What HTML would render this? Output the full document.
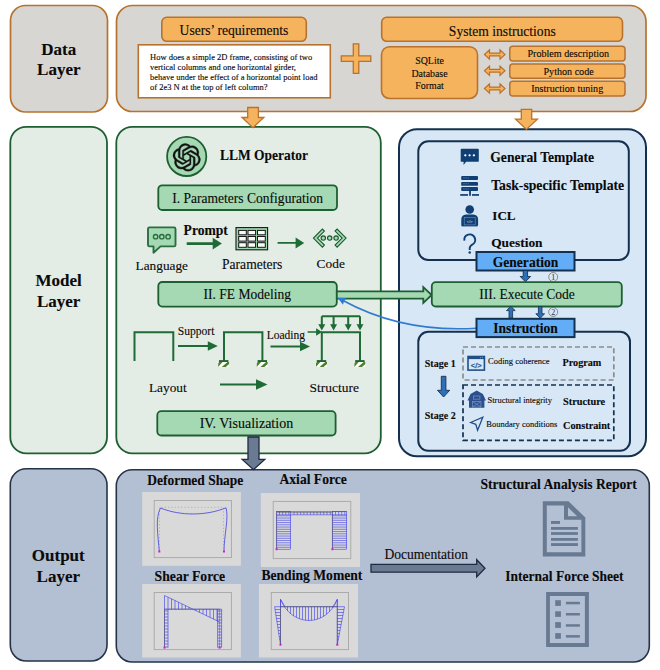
<!DOCTYPE html>
<html><head><meta charset="utf-8">
<style>
html,body{margin:0;padding:0;background:#fff;width:660px;height:670px;overflow:hidden}
svg{display:block}
text{font-family:"Liberation Serif",serif;fill:#0a0a0a;stroke:#0a0a0a;stroke-width:0.12}
.b{font-weight:700}
</style></head>
<body>
<svg width="660" height="670" viewBox="0 0 660 670">
<!-- ===== DATA LAYER ===== -->
<rect x="10.5" y="5.5" width="97" height="106.5" rx="15" fill="#d8d6d3" stroke="#b8722d" stroke-width="1.7"/>
<text class="b" x="58.8" y="54.8" font-size="17" text-anchor="middle">Data</text>
<text class="b" x="58.8" y="74.8" font-size="17" text-anchor="middle">Layer</text>

<rect x="116.5" y="5.5" width="529.5" height="106" rx="16" fill="#d8d6d3" stroke="#b8722d" stroke-width="1.7"/>
<rect x="161.8" y="17.3" width="144.5" height="24" rx="5" fill="#f6b35d" stroke="#b8722d" stroke-width="1.6"/>
<text x="234" y="35.3" font-size="13.6" text-anchor="middle">Users’ requirements</text>
<rect x="138.3" y="44.8" width="192" height="53" fill="#fff" stroke="#b8722d" stroke-width="1.6"/>
<g font-size="8.5" style="stroke:none">
<text x="150" y="59.7">How does a simple 2D frame, consisting of two</text>
<text x="150" y="69.9">vertical columns and one horizontal girder,</text>
<text x="150" y="80.1">behave under the effect of a horizontal point load</text>
<text x="150" y="90.3">of 2e3 N at the top of left column?</text>
</g>
<!-- plus -->
<path d="M353.3 43.8h5.5v12h12v5.5h-12v12h-5.5v-12h-12v-5.5h12z" fill="#f6b35d" stroke="#b8722d" stroke-width="1.3"/>
<rect x="381.7" y="17.3" width="240.8" height="24" rx="5" fill="#f6b35d" stroke="#b8722d" stroke-width="1.6"/>
<text x="502.3" y="36" font-size="13.6" text-anchor="middle">System instructions</text>
<rect x="381.5" y="46.7" width="96" height="51.8" rx="8" fill="#f6b35d" stroke="#b8722d" stroke-width="1.6"/>
<g font-size="9.9" text-anchor="middle">
<text x="429.5" y="63.9">SQLite</text>
<text x="429.5" y="76.8">Database</text>
<text x="429.5" y="89.2">Format</text>
</g>
<g fill="#f6b35d" stroke="#b8722d" stroke-width="1.2">
<path id="dbl" d="M484.5 54.5l5-4.6v3.2h10.5v-3.2l5 4.6l-5 4.6v-3.2h-10.5v3.2z"/>
<use href="#dbl" y="16.3"/>
<use href="#dbl" y="34"/>
</g>
<rect x="509.8" y="46.2" width="115.2" height="14.8" rx="3" fill="#f6b35d" stroke="#b8722d" stroke-width="1.5"/>
<rect x="509.8" y="64" width="115.2" height="14.3" rx="3" fill="#f6b35d" stroke="#b8722d" stroke-width="1.5"/>
<rect x="509.8" y="81.2" width="115.2" height="14.7" rx="3" fill="#f6b35d" stroke="#b8722d" stroke-width="1.5"/>
<g font-size="10.1" text-anchor="middle">
<text x="568.3" y="56.7">Problem description</text>
<text x="568.6" y="75">Python code</text>
<text x="567.2" y="91.5">Instruction tuning</text>
</g>

<!-- ===== MODEL LAYER ===== -->
<rect x="10.3" y="126.8" width="96.7" height="326.5" rx="16" fill="#e4ece6" stroke="#1d5f31" stroke-width="1.8"/>
<text class="b" x="58.6" y="286" font-size="17" text-anchor="middle">Model</text>
<text class="b" x="58.6" y="307" font-size="17" text-anchor="middle">Layer</text>

<rect x="116.3" y="126.8" width="264.5" height="326.5" rx="16" fill="#e4ece6" stroke="#1d5f31" stroke-width="1.8"/>
<rect x="399" y="129.3" width="247" height="327" rx="18" fill="#d8e7f5" stroke="#13304f" stroke-width="2"/>
<rect x="418.3" y="141.3" width="210.5" height="118.7" rx="10" fill="none" stroke="#13304f" stroke-width="2"/>
<rect x="418.3" y="331.8" width="211.7" height="119" rx="10" fill="none" stroke="#13304f" stroke-width="2"/>


<!-- ===== MODEL MIDDLE CONTENT ===== -->
<!-- openai logo -->
<circle cx="186.7" cy="156.4" r="19.6" fill="#a4d9b3" stroke="#1d5f31" stroke-width="1.8"/>
<g transform="translate(172.9 143.6) scale(1.15)"><path fill="#111" stroke="#111" stroke-width="0.35" stroke-linejoin="round" d="M22.2819 9.8211a5.9847 5.9847 0 0 0-.5157-4.9108 6.0462 6.0462 0 0 0-6.5098-2.9A6.0651 6.0651 0 0 0 4.9807 4.1818a5.9847 5.9847 0 0 0-3.9977 2.9 6.0462 6.0462 0 0 0 .7427 7.0966 5.98 5.98 0 0 0 .511 4.9107 6.051 6.051 0 0 0 6.5146 2.9001A5.9847 5.9847 0 0 0 13.2599 24a6.0557 6.0557 0 0 0 5.7718-4.2058 5.9894 5.9894 0 0 0 3.9977-2.9001 6.0557 6.0557 0 0 0-.7475-7.0729zm-9.022 12.6081a4.4755 4.4755 0 0 1-2.8764-1.0408l.1419-.0804 4.7783-2.7582a.7948.7948 0 0 0 .3927-.6813v-6.7369l2.02 1.1686a.071.071 0 0 1 .038.052v5.5826a4.504 4.504 0 0 1-4.4945 4.4944zm-9.6607-4.1254a4.4708 4.4708 0 0 1-.5346-3.0137l.142.0852 4.783 2.7582a.7712.7712 0 0 0 .7806 0l5.8428-3.3685v2.3324a.0804.0804 0 0 1-.0332.0615L9.74 19.9502a4.4992 4.4992 0 0 1-6.1408-1.6464zM2.3408 7.8956a4.485 4.485 0 0 1 2.3655-1.9728V11.6a.7664.7664 0 0 0 .3879.6765l5.8144 3.3543-2.0201 1.1685a.0757.0757 0 0 1-.071 0l-4.8303-2.7865A4.504 4.504 0 0 1 2.3408 7.872zm16.5963 3.8558L13.1038 8.364 15.1192 7.2a.0757.0757 0 0 1 .071 0l4.8303 2.7913a4.4944 4.4944 0 0 1-.6765 8.1042v-5.6772a.79.79 0 0 0-.407-.667zm2.0107-3.0231l-.142-.0852-4.7735-2.7818a.7759.7759 0 0 0-.7854 0L9.409 9.2297V6.8974a.0662.0662 0 0 1 .0284-.0615l4.8303-2.7866a4.4992 4.4992 0 0 1 6.6802 4.66zM8.3065 12.863l-2.02-1.1638a.0804.0804 0 0 1-.038-.0567V6.0742a4.4992 4.4992 0 0 1 7.3757-3.4537l-.142.0805L8.704 5.459a.7948.7948 0 0 0-.3927.6813zm1.0976-2.3654l2.602-1.4998 2.6069 1.4998v2.9994l-2.5974 1.4997-2.6067-1.4997Z"/></g>
<text class="b" x="220" y="160.2" font-size="14.9" textLength="88" lengthAdjust="spacingAndGlyphs">LLM Operator</text>
<rect x="158.3" y="185.3" width="178.7" height="24.7" rx="4" fill="#a4d9b3" stroke="#1d5f31" stroke-width="1.8"/>
<text x="247.6" y="203" font-size="13.55" text-anchor="middle">I. Parameters Configuration</text>

<!-- language icon -->
<path d="M149.5 227.4h24.5a1.5 1.5 0 0 1 1.5 1.5v16a1.5 1.5 0 0 1 -1.5 1.5h-13.5l-7 6.3v-6.3h-4a1.5 1.5 0 0 1 -1.5 -1.5v-16a1.5 1.5 0 0 1 1.5 -1.5z" fill="#a4d9b3" stroke="#2a6e3f" stroke-width="1.9" stroke-linejoin="round"/>
<g fill="none" stroke="#2a6e3f" stroke-width="1.4">
<circle cx="155.6" cy="236.7" r="2.2"/><circle cx="161.8" cy="236.7" r="2.2"/><circle cx="168.1" cy="236.7" r="2.2"/>
</g>
<text class="b" x="183.6" y="235" font-size="13.6">Prompt</text>
<text x="135.6" y="269.5" font-size="13.3">Language</text>
<!-- arrows -->
<g fill="#1f6b35" stroke="none">
<path d="M186.7 242.3h26v-4.6l9.2 5.9l-9.2 5.9v-4.6h-26z"/>
<path d="M277.6 242h18v-4.6l8.6 5.5l-8.6 5.5v-4.6h-18z"/>
</g>
<!-- parameters table icon -->
<rect x="236" y="227.6" width="31.6" height="22.2" fill="#9fd6ad" stroke="#151515" stroke-width="1.1"/>
<g fill="#f8faf8" stroke="#151515" stroke-width="1">
<rect x="238.7" y="230.4" width="7.6" height="4.4"/><rect x="248" y="230.4" width="7.6" height="4.4"/><rect x="257.5" y="230.4" width="7.8" height="4.4"/>
<rect x="238.7" y="236.5" width="7.6" height="4.6"/><rect x="248" y="236.5" width="7.6" height="4.6"/><rect x="257.5" y="236.5" width="7.8" height="4.6"/>
<rect x="238.7" y="242.7" width="7.6" height="4.6"/><rect x="248" y="242.7" width="7.6" height="4.6"/><rect x="257.5" y="242.7" width="7.8" height="4.6"/>
</g>
<text x="222" y="268.6" font-size="13.6">Parameters</text>
<!-- code icon -->
<g fill="#a4d9b3" stroke="#17592c" stroke-width="1.1" stroke-linejoin="miter">
<path d="M313.4 238.1L322.4 229.1L324.4 231.1L317.4 238.1L324.4 245.1L322.4 247.1Z"/>
<path d="M346.1 238.1L337.1 229.1L335.1 231.1L342.1 238.1L335.1 245.1L337.1 247.1Z"/>
<circle cx="323.3" cy="238.1" r="2.2"/><circle cx="329.7" cy="238.1" r="2.2"/><circle cx="336.1" cy="238.1" r="2.2"/>
</g>
<text x="316.6" y="268.4" font-size="13.4">Code</text>

<!-- FE modeling -->
<rect x="158.3" y="282" width="178.5" height="24.6" rx="4" fill="#a4d9b3" stroke="#1d5f31" stroke-width="1.8"/>
<text x="247.3" y="299.3" font-size="13.55" text-anchor="middle">II. FE Modeling</text>
<!-- hollow arrow to execute code -->
<path d="M336.8 291.4H423.3V287.2L431.6 295L423.3 302.8V298.6H336.8Z" fill="#a4d9b3" stroke="#1d5f31" stroke-width="1.8" stroke-linejoin="miter"/>

<!-- layout frames -->
<g fill="none" stroke="#1f6b35" stroke-width="2">
<path d="M134.5 361v-28.8h38.8v28.8"/>
<path d="M224 361v-28.8h38.4v28.8"/>
<path d="M321.8 361v-28.8h38.2v28.8"/>
<path d="M321.8 316.3h38.2"/>
</g>
<g fill="#1f6b35">
<path d="M178 344.9H207.8V341.3L217.8 346L207.8 350.7V347.1H178Z"/>
<path d="M270.5 345.4H300V341.8L310 346.5L300 351.2V347.6H270.5Z"/>
<path d="M220 383.5h36v-4.3l11.5 5.3l-11.5 5.3v-4.3h-36z"/>
<path d="M307.6 331.2h8.5v-3l6 3.8l-6 3.8v-3h-8.5z"/>
<path d="M320.8 316.3h2v8h2.5l-3.5 6.2l-3.5-6.2h2.5z"/>
<path d="M332.6 316.3h2v8h2.5l-3.5 6.2l-3.5-6.2h2.5z"/>
<path d="M347.2 316.3h2v8h2.5l-3.5 6.2l-3.5-6.2h2.5z"/>
<path d="M359 316.3h2v8h2.5l-3.5 6.2l-3.5-6.2h2.5z"/>
</g>
<!-- supports -->
<defs><clipPath id="supc"><rect x="218.2" y="362" width="10.9" height="5"/></clipPath></defs>
<g id="sup">
<rect x="219" y="360.1" width="9.4" height="1.9" fill="#1d6633"/>
<rect x="218.2" y="362" width="10.9" height="5" fill="#fff"/>
<g clip-path="url(#supc)" stroke="#4d7f2c" stroke-width="2.6">
<path d="M215.4 368L221.6 361.2"/>
<path d="M222.6 368L230.4 361.2"/>
</g>
</g>
<use href="#sup" x="38.6"/><use href="#sup" x="97.8"/><use href="#sup" x="136.2"/>
<text x="177.7" y="335" font-size="11.6">Support</text>
<text x="266.7" y="339.2" font-size="11.5">Loading</text>
<text x="149" y="391.8" font-size="13.3">Layout</text>
<text x="309.5" y="391.8" font-size="13.5">Structure</text>

<rect x="157.3" y="411.2" width="178.3" height="24.3" rx="4" fill="#a4d9b3" stroke="#1d5f31" stroke-width="1.8"/>
<text x="246.4" y="427.8" font-size="14" text-anchor="middle">IV. Visualization</text>


<!-- ===== MODEL RIGHT CONTENT ===== -->
<g fill="#0f3f73">
<!-- chat -->
<path d="M461.6 148.7h16.3a0.9 0.9 0 0 1 0.9 0.9v11.3a0.9 0.9 0 0 1 -0.9 0.9h-11.8l-2.5 3.3v-3.3h-2a0.9 0.9 0 0 1 -0.9 -0.9v-11.3a0.9 0.9 0 0 1 0.9 -0.9z"/>
<!-- server -->
<rect x="461.2" y="176" width="16.8" height="3.9" rx="0.9"/>
<rect x="461.2" y="181.9" width="16.8" height="3.9" rx="0.9"/>
<rect x="461.2" y="187" width="16.8" height="3.9" rx="0.9"/>
<rect x="469.1" y="190.5" width="1.8" height="5.3"/>
<rect x="460.2" y="194.1" width="7.8" height="1.7"/>
<rect x="472" y="194.1" width="7" height="1.7"/>
<!-- person -->
<circle cx="469.7" cy="209.5" r="4.3"/>
<path d="M461.3 225.6V219.5Q461.3 214.6 466 214.4H473.4Q478.1 214.6 478.1 219.5V225.6Z"/>
<rect x="461.6" y="225" width="16" height="1.4"/>
</g>
<g fill="#fff">
<circle cx="465.3" cy="155.3" r="1.15"/><circle cx="469.6" cy="155.3" r="1.15"/><circle cx="473.9" cy="155.3" r="1.15"/>
</g>
<g fill="#7fa3c8">
<rect x="463.5" y="177.6" width="1" height="0.8"/><rect x="465.6" y="177.6" width="1" height="0.8"/><rect x="467.7" y="177.6" width="1" height="0.8"/>
<rect x="463.5" y="183.4" width="1" height="0.8"/><rect x="465.6" y="183.4" width="1" height="0.8"/><rect x="467.7" y="183.4" width="1" height="0.8"/>
<rect x="463.5" y="188.6" width="1" height="0.8"/><rect x="465.6" y="188.6" width="1" height="0.8"/><rect x="467.7" y="188.6" width="1" height="0.8"/>
</g>
<rect x="464.2" y="217.6" width="11" height="7.3" fill="none" stroke="#6f94bf" stroke-width="0.6"/>
<text x="469.7" y="223" font-size="4" text-anchor="middle" style="fill:#dfe9f5;stroke:none;font-family:'Liberation Sans',sans-serif">&lt;/&gt;</text>
<!-- question mark -->
<path d="M464.4 240.6A5.4 5.4 0 1 1 472.8 244.3Q469.7 246.2 469.7 248.3V250" fill="none" stroke="#0f3f73" stroke-width="1.9"/>
<circle cx="469.7" cy="252.4" r="1.25" fill="#0f3f73"/>

<g class="b" font-size="13.6">
<text x="490.3" y="161.6">General Template</text>
<text x="491.2" y="189.5" font-size="13.7">Task-specific Template</text>
<text x="492.3" y="220" font-size="13.1">ICL</text>
<text x="491.2" y="247" font-size="13.4">Question</text>
</g>

<!-- generation -->
<rect x="476.5" y="252" width="98" height="18.5" fill="#62adf6" stroke="#13304f" stroke-width="2"/>
<text class="b" x="525.5" y="266.5" font-size="13.55" text-anchor="middle">Generation</text>
<path d="M523.2 270.5h4.4v6h3l-5.2 5.3l-5.2-5.3h3z" fill="#2f6fb8" stroke="#13304f" stroke-width="0.9"/>
<!-- execute code -->
<rect x="431.8" y="282.2" width="190" height="24.3" rx="4" fill="#a4d9b3" stroke="#1d5f31" stroke-width="1.8"/>
<text x="527" y="298.8" font-size="13.53" text-anchor="middle">III. Execute Code</text>
<!-- arrows execute <-> instruction -->
<path d="M509 318.3V310.6H506.4L510.8 306.3L515.2 310.6H512.6V318.3Z" fill="#2f6fb8" stroke="#13304f" stroke-width="0.8"/>
<path d="M538.4 306.6V313.8H535.8L540.2 318.2L544.6 313.8H542V306.6Z" fill="#2f6fb8" stroke="#13304f" stroke-width="0.8"/>
<g fill="none" stroke="#666" stroke-width="0.7">
<circle cx="553.2" cy="277" r="4.5"/>
<circle cx="553.2" cy="312" r="4.5"/>
</g>
<text x="553.2" y="280" font-size="8" text-anchor="middle" style="fill:#3a2a2a;stroke:none">1</text>
<text x="553.2" y="315" font-size="8" text-anchor="middle" style="fill:#3a2a2a;stroke:none">2</text>
<!-- blue curve -->
<path d="M476.5 328.2C432 331 386 324 343 300.5" fill="none" stroke="#2f7bd0" stroke-width="1.6"/>
<path d="M337.5 297.8L346.4 298.2L344 301.3L343 304.8z" fill="#2f7bd0"/>
<!-- instruction -->
<rect x="476.5" y="318.8" width="98" height="18.3" fill="#62adf6" stroke="#13304f" stroke-width="2"/>
<text class="b" x="525.5" y="333.4" font-size="13.56" text-anchor="middle">Instruction</text>

<!-- stage -->
<g class="b" font-size="10">
<text x="424.8" y="366.9">Stage 1</text>
<text x="424.8" y="418.6">Stage 2</text>
</g>
<path d="M441.3 376.3h4.6v14h3.8l-6.1 6.7l-6.1-6.7h3.8z" fill="#2f6fb8" stroke="#13304f" stroke-width="0.9"/>
<rect x="463" y="347" width="150.8" height="33" fill="none" stroke="#8c8c8c" stroke-width="1.7" stroke-dasharray="5 3"/>
<rect x="463" y="385" width="150.8" height="55.3" fill="none" stroke="#13304f" stroke-width="1.7" stroke-dasharray="5 3"/>
<!-- coding icon -->
<rect x="468" y="356.5" width="16.4" height="13.6" fill="none" stroke="#1f4f86" stroke-width="1.6"/>
<rect x="468" y="356.5" width="16.4" height="2.6" fill="#1f4f86"/>
<text x="476.2" y="367.5" font-size="7.5" text-anchor="middle" style="fill:#1f4f86;stroke:#1f4f86;stroke-width:0.3;font-family:'Liberation Sans',sans-serif">&lt;/&gt;</text>
<g fill="#d8e7f5"><circle cx="480.5" cy="357.8" r="0.45"/><circle cx="482.3" cy="357.8" r="0.45"/></g>
<!-- barn icon -->
<path d="M467.5 400.5l3-6.5l6.2-3.4l6.2 3.4l3 6.5h-1.5v7.2h-15.4v-7.2z" fill="#2d4f8e"/>
<g fill="none" stroke="#6f8dbf" stroke-width="0.8">
<rect x="473.5" y="396" width="6.4" height="3.2"/>
<rect x="472.5" y="401.5" width="8.4" height="5.5"/>
<path d="M472.5 401.5l8.4 5.5M480.9 401.5l-8.4 5.5"/>
</g>
<!-- nav icon -->
<path d="M470.6 422.5l12.2-5.3l-5.2 13.1l-1.8-6z" fill="none" stroke="#1f4f86" stroke-width="1.3" stroke-linejoin="miter"/>
<g font-size="8.5">
<text x="488" y="363.7">Coding coherence</text>
<text x="487.5" y="402.5">Structural integrity</text>
<text x="486.3" y="427">Boundary conditions</text>
</g>
<g class="b" font-size="10.2">
<text x="562.5" y="366.3">Program</text>
<text x="563" y="405" font-size="10.3">Structure</text>
<text x="563" y="428.8" font-size="10.26">Constraint</text>
</g>

<!-- down arrows data->model -->
<path d="M247.7 107.5h10.7v10h5.4l-10.9 10.2l-10.9-10.2h5.7z" fill="#f6b35d" stroke="#b8722d" stroke-width="1.3"/>
<path d="M521.3 109.3h10.4v9.8h5.7l-11 10.3l-10.8-10.3h5.7z" fill="#f6b35d" stroke="#b8722d" stroke-width="1.3"/>

<!-- ===== OUTPUT LAYER ===== -->
<rect x="10.3" y="468.8" width="96.7" height="192.2" rx="16" fill="#b3bfd3" stroke="#263248" stroke-width="1.6"/>
<text class="b" x="58.3" y="561" font-size="17" text-anchor="middle">Output</text>
<text class="b" x="58.3" y="582" font-size="17" text-anchor="middle">Layer</text>
<rect x="116.3" y="469.8" width="533" height="192.2" rx="16" fill="#b3bfd3" stroke="#263248" stroke-width="1.6"/>

<!-- dark arrow model->output -->
<path d="M248 437h11v22.4h5.8l-11.3 10.3l-11.3-10.3h5.8z" fill="#6b7a93" stroke="#1e2a40" stroke-width="1.3"/>


<!-- ===== OUTPUT CONTENT ===== -->
<g class="b" font-size="13.5">
<text x="147.3" y="484.6" font-size="15" textLength="96" lengthAdjust="spacingAndGlyphs">Deformed Shape</text>
<text x="279.5" y="483.6" font-size="14.9" textLength="67.3" lengthAdjust="spacingAndGlyphs">Axial Force</text>
<text x="154.6" y="580.6" font-size="15" textLength="70.6" lengthAdjust="spacingAndGlyphs">Shear Force</text>
<text x="261.4" y="579.6" font-size="14.9" textLength="101" lengthAdjust="spacingAndGlyphs">Bending Moment</text>
<text x="480.5" y="489.2" font-size="14.8" textLength="156.3" lengthAdjust="spacingAndGlyphs">Structural Analysis Report</text>
<text x="505.3" y="581" font-size="14.8" textLength="118.2" lengthAdjust="spacingAndGlyphs">Internal Force Sheet</text>
</g>
<!-- panels -->
<g fill="#d9d9d9">
<rect x="142.2" y="492" width="98.7" height="73.8"/>
<rect x="260.8" y="493" width="99.2" height="74"/>
<rect x="142.2" y="584" width="98.7" height="73.5"/>
<rect x="258.9" y="584" width="99.1" height="73.5"/>
</g>
<g fill="none" stroke="#a6a6a6" stroke-width="0.9">
<rect x="154.2" y="500.5" width="77.2" height="57.1"/>
<rect x="273.2" y="501.4" width="77.6" height="57.2"/>
<rect x="154.2" y="592.5" width="77.2" height="57.1"/>
<rect x="271.3" y="592.5" width="77.2" height="57.1"/>
</g>
<!-- deformed shape -->
<path d="M159.5 551.5V507.3H223.5V551.5" fill="none" stroke="#8cbf88" stroke-width="0.9" stroke-dasharray="1.1 2.2"/>
<path d="M159.3 551.5C158 535 155 518 160.5 508C180 516 206 516 226 507.8C229 518 224 535 224 551.5" fill="none" stroke="#4040e0" stroke-width="0.8"/>
<g fill="#d01fd0">
<rect x="158.3" y="550.5" width="2" height="2"/><rect x="223" y="550.5" width="2" height="2"/>
</g>
<!-- axial force -->
<g fill="none" stroke="#3333f2" stroke-width="0.55">
<rect x="276.6" y="511.6" width="14" height="37.6"/>
<rect x="332.4" y="511.6" width="14.3" height="37.6"/>
<path d="M276.6 511.6H346.7M276.6 514.8H346.7"/>
<path d="M276.6 515.80h14M276.6 518.05h14M276.6 520.30h14M276.6 522.55h14M276.6 524.80h14M276.6 527.05h14M276.6 529.30h14M276.6 531.55h14M276.6 533.80h14M276.6 536.05h14M276.6 538.30h14M276.6 540.55h14M276.6 542.80h14M276.6 545.05h14M276.6 547.30h14"/>
<path d="M332.4 515.80h14.3M332.4 518.05h14.3M332.4 520.30h14.3M332.4 522.55h14.3M332.4 524.80h14.3M332.4 527.05h14.3M332.4 529.30h14.3M332.4 531.55h14.3M332.4 533.80h14.3M332.4 536.05h14.3M332.4 538.30h14.3M332.4 540.55h14.3M332.4 542.80h14.3M332.4 545.05h14.3M332.4 547.30h14.3"/>
<path d="M279.5 511.6v3.2M282.6 511.6v3.2M285.7 511.6v3.2M288.8 511.6v3.2M294.0 511.6v3.2M297.3 511.6v3.2M300.6 511.6v3.2M303.9 511.6v3.2M307.2 511.6v3.2M310.5 511.6v3.2M313.8 511.6v3.2M317.1 511.6v3.2M320.4 511.6v3.2M323.7 511.6v3.2M327.0 511.6v3.2M330.3 511.6v3.2M335.5 511.6v3.2M338.6 511.6v3.2M341.7 511.6v3.2M344.8 511.6v3.2"/>
</g>
<path d="M276.6 549.2V512.6H332.4V549.2" fill="none" stroke="#555" stroke-width="0.5"/>
<g fill="#d01fd0">
<rect x="275.6" y="548.2" width="2" height="2"/><rect x="331.4" y="548.2" width="2" height="2"/>
</g>
<!-- shear force -->
<g fill="none" stroke="#3535f0" stroke-width="0.6">
<path d="M164.5 595.5V647.6M168 609.2V647.6M217.6 609.2V647.6M221.6 609.2V647.6M164.5 609.2H221.6"/>
<path d="M164.5 595.5L219.6 622"/>
<path d="M164.5 611h3.5M164.5 614h3.5M164.5 617h3.5M164.5 620h3.5M164.5 623h3.5M164.5 626h3.5M164.5 629h3.5M164.5 632h3.5M164.5 635h3.5M164.5 638h3.5M164.5 641h3.5M164.5 644h3.5M164.5 647h3.5"/>
<path d="M217.6 611h4M217.6 614h4M217.6 617h4M217.6 620h4M217.6 623h4M217.6 626h4M217.6 629h4M217.6 632h4M217.6 635h4M217.6 638h4M217.6 641h4M217.6 644h4M217.6 647h4"/>
<path d="M168 597.2V609.2M171.5 598.9V609.2M175 600.5V609.2M178.5 602.2V609.2M182 603.9V609.2M185.5 605.6V609.2M189 607.3V609.2M196 609.2V610.6M199.5 609.2V612.3M203 609.2V614.0M206.5 609.2V615.7M210 609.2V617.4M213.5 609.2V619.1M217 609.2V620.7"/>
</g>
<path d="M164.5 647.6V609.2H219.6V647.6" fill="none" stroke="#555" stroke-width="0.5"/>
<g fill="#d01fd0">
<rect x="163.5" y="646.6" width="2" height="2"/><rect x="218.6" y="646.6" width="2" height="2"/>
</g>
<!-- bending moment -->
<g fill="none" stroke="#3a3aef" stroke-width="0.6">
<path d="M280.5 644.7L274.6 606.7H280.5V599.4L285 606.7"/>
<path d="M337.3 644.7L344.5 606.7H337.3V599.4L333 606.7"/>
<path d="M280.5 599.4C292 627.5 326 627.5 337.3 599.4"/>
<path d="M280.5 599.4V644.7M337.3 599.4V644.7"/>
<path d="M275 609.5h5.5M275.5 612.5h5M276 615.5h4.5M276.4 618.5h4.1M276.9 621.5h3.6M277.3 624.5h3.2M277.8 627.5h2.7M278.3 630.5h2.2M278.7 633.5h1.8M279.2 636.5h1.3M279.6 639.5h0.9"/>
<path d="M337.3 609.5h6.7M337.3 612.5h6.1M337.3 615.5h5.6M337.3 618.5h5M337.3 621.5h4.4M337.3 624.5h3.9M337.3 627.5h3.3M337.3 630.5h2.7M337.3 633.5h2.2M337.3 636.5h1.6M337.3 639.5h1"/>
<path d="M287.5 606.7V610.7M290.5 606.7V613.6M293.5 606.7V615.8M296.5 606.7V617.5M299.5 606.7V618.8M302.5 606.7V619.7M305.5 606.7V620.3M308.5 606.7V620.5M311.5 606.7V620.4M314.5 606.7V619.9M317.5 606.7V619.1M320.5 606.7V618.0M323.5 606.7V616.4M326.5 606.7V614.3M329.5 606.7V611.6M332.5 606.7V608.1"/>
<path d="M280.5 606.7H337.3"/>
</g>
<path d="M280.5 644.7V606.7H337.3V644.7" fill="none" stroke="#555" stroke-width="0.6"/>
<g fill="#d01fd0">
<rect x="279.5" y="643.7" width="2" height="2"/><rect x="336.3" y="643.7" width="2" height="2"/>
</g>

<!-- documentation arrow -->
<text x="384.4" y="558.6" font-size="13.59">Documentation</text>
<path d="M371 564.4h105.7v-4.7l8.3 8.6l-8.3 8.6v-4.7h-105.7z" fill="#6b7a93" stroke="#1e2a40" stroke-width="1.3"/>

<!-- document icon -->
<path fill-rule="evenodd" fill="#687a92" d="M542.8 501.3H568.5L585.3 517.5V556.4H542.8Z M546.8 505.6H564V519.8H581.4V552.3H546.8Z M568 507.3V516.2H577.2Z"/>
<g fill="#687a92">
<rect x="551" y="521" width="9" height="2.9"/>
<rect x="551" y="527" width="26.9" height="2.8"/>
<rect x="551" y="532.1" width="26.9" height="2.8"/>
<rect x="551" y="538" width="26.9" height="2.8"/>
<rect x="551" y="543.1" width="26.9" height="2.9"/>
</g>
<!-- list icon -->
<path fill-rule="evenodd" fill="#687a92" d="M546.1 592.1H588.9V646.9H546.1Z M549.9 596H584.9V643H549.9Z"/>
<g fill="#687a92">
<rect x="555.2" y="600.2" width="5.7" height="5.7"/><rect x="565.9" y="601.8" width="14" height="2.5"/>
<rect x="555.2" y="611.3" width="5.7" height="5.6"/><rect x="565.9" y="613" width="14" height="2.5"/>
<rect x="555.2" y="622.1" width="5.7" height="5.8"/><rect x="565.9" y="624.2" width="14" height="2.5"/>
<rect x="555.2" y="633.1" width="5.7" height="5.7"/><rect x="565.9" y="635.1" width="14" height="2.5"/>
</g>
</svg>
</body></html>
